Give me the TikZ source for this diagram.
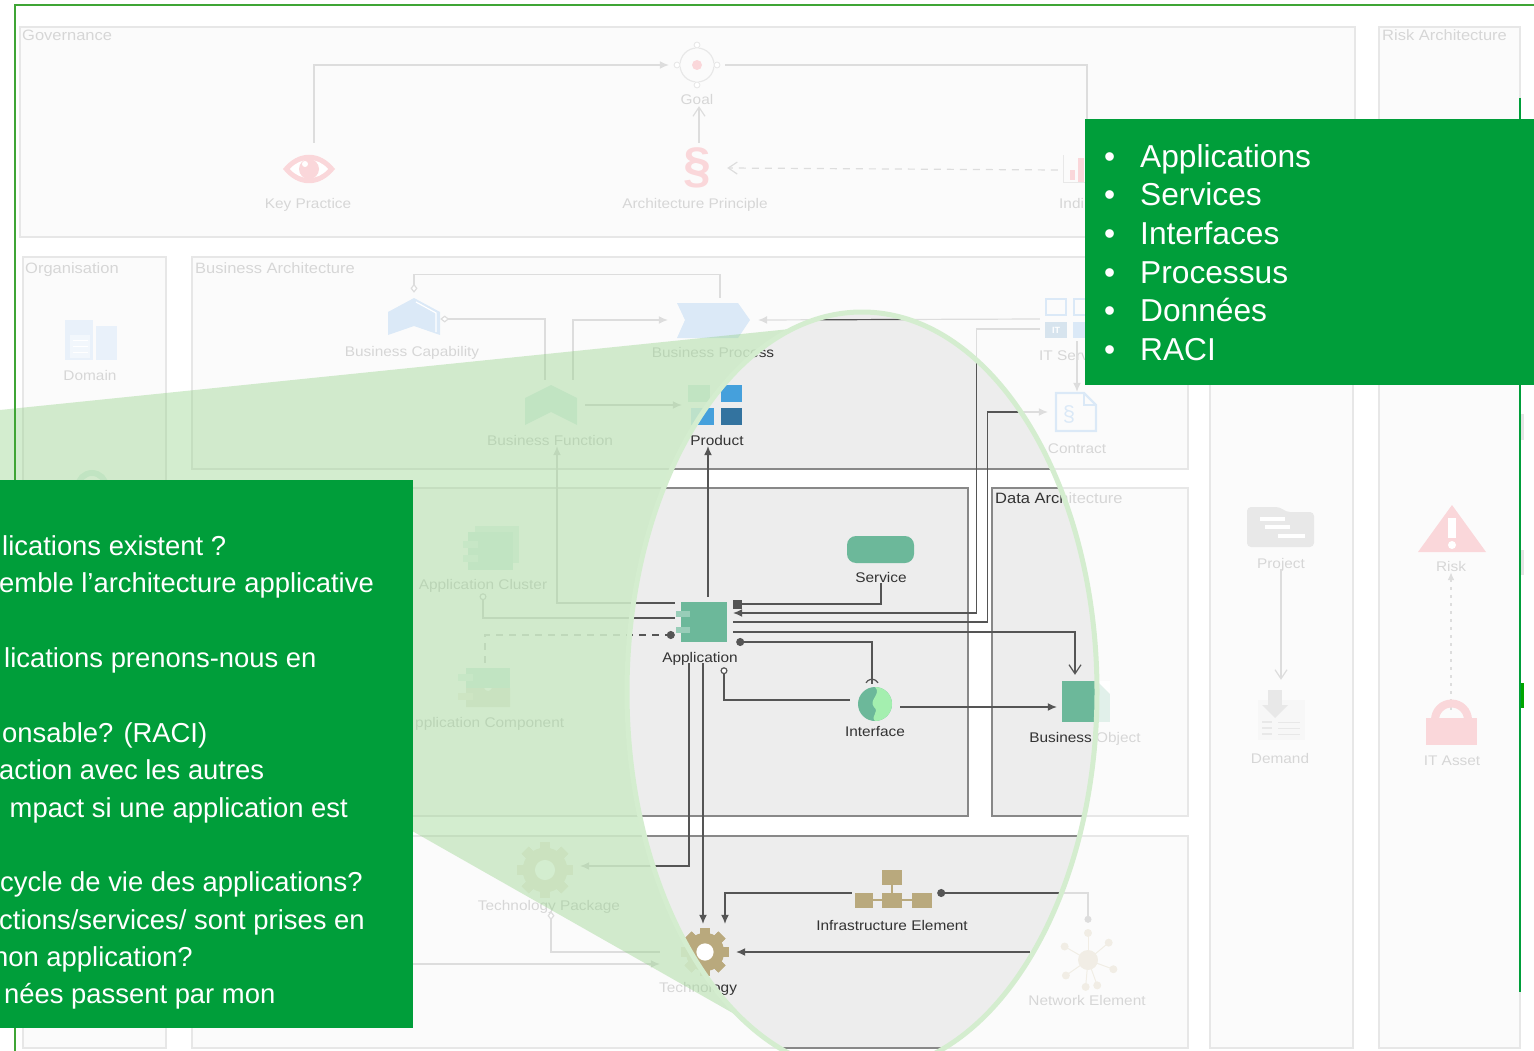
\documentclass[tikz,border=0pt]{standalone}
\usepackage{fontspec}
\setmainfont{Liberation Sans}
\newfontfamily\lblfont[FakeStretch=1.1]{Liberation Sans}
\usetikzlibrary{arrows.meta}
\definecolor{boxgreen}{HTML}{009E3A}
\definecolor{framegreen}{HTML}{3FA535}
\definecolor{conegreen}{RGB}{147,210,135}
\definecolor{halo}{HTML}{D4EDCF}
\definecolor{archred}{HTML}{E63946}
\definecolor{archblue}{HTML}{4B91D7}
\definecolor{appgreen}{HTML}{6CB89A}
\definecolor{techtan}{HTML}{B9A97D}
\definecolor{prodblue}{HTML}{45A0DC}
\definecolor{proddark}{HTML}{33739F}
\definecolor{ink}{HTML}{333333}
\definecolor{wire}{HTML}{555555}
\definecolor{panelline}{HTML}{888888}
\definecolor{greyicon}{HTML}{8C8C8C}
\tikzset{
  panel/.style={fill=black!7,draw=panelline,line width=1.2pt},
  ptitle/.style={anchor=west,inner sep=0pt,text=ink,text height=10pt,text depth=0pt,font=\lblfont\fontsize{15}{16}\selectfont},
  lbl/.style={inner sep=1pt,text=ink,text height=10pt,text depth=0pt,font=\lblfont\fontsize{14}{16}\selectfont},
  ibx/.style 2 args={inner sep=0pt,minimum width=#1 pt,minimum height=#2 pt},
  conn/.style={draw=wire,line width=1.2pt},
  filled/.style={conn,-{Latex[length=9pt,width=8pt]}},
  openarr/.style={conn,-{Straight Barb[length=9pt,width=12pt]}},
  longdash/.style={dash pattern=on 7pt off 6pt},
  listline/.style={anchor=base west,inner sep=0pt,text=white,font=\fontsize{31.7}{38}\selectfont},
  qline/.style={anchor=base west,inner sep=0pt,text=white,font=\fontsize{27.4}{36}\selectfont},
}
\newcommand{\gearicon}[4]{%
  \foreach \a in {0,45,...,315}{\fill[#4,shift={(#1,#2)},rotate=\a] (-5,-#3) rectangle (5,#3);}
  \fill[#4] (#1,#2) circle[radius=#3*0.8pt];
  \fill[white] (#1,#2) circle[radius=#3*0.36pt];
}
\newcommand{\compicon}[5]{%
  \fill[#5] (#1,#2) rectangle (#3,#4);
  \fill[#5!70!white] ({#1-5},{#2+9}) rectangle ({#1+9},{#2+15});
  \fill[#5!70!white] ({#1-5},{#2+25}) rectangle ({#1+9},{#2+31});
}
\begin{document}
\begin{tikzpicture}[x=1pt,y=-1pt]
\useasboundingbox (0,0) rectangle (1534,1051);
\fill[white] (0,0) rectangle (1534,1051);

% --- panels
\path[panel] (20,27) rectangle (1355,237);
\path[panel] (1379,27) rectangle (1520,1048);
\path[panel] (1210,257) rectangle (1353,1048);
\path[panel] (23,257) rectangle (166,1048);
\path[panel] (192,257) rectangle (1188,469);
\path[panel] (192,488) rectangle (968,816);
\path[panel] (992,488) rectangle (1188,816);
\path[panel] (192,836) rectangle (1188,1048);
\node[ptitle] (tgov) at (22,36) {Governance};
\node[ptitle] (trisk) at (1382,36) {Risk Architecture};
\node[ptitle] (torg) at (25,268) {Organisation};
\node[ptitle] (tbus) at (195,268) {Business Architecture};
\node[ptitle] (tdat) at (995,498) {Data Architecture};

% --- node frames (ports of the connectors)
\node[ibx={56}{44}] (goal) at (697,65) {};
\node[ibx={60}{50}] (principle) at (697,168) {};
\node[ibx={52}{52}] (keypr) at (308,169) {};
\node[ibx={34}{30}] (indicator) at (1075,170) {};
\node[ibx={52}{52}] (buscap) at (414,319) {};
\node[ibx={90}{44}] (buspro) at (713,320) {};
\node[ibx={70}{50}] (busfun) at (550,405) {};
\node[ibx={66}{44}] (product) at (715,405) {};
\node[ibx={50}{44}] (itsvc) at (1065,319) {};
\node[ibx={58}{40}] (contract) at (1077,412) {};
\node[ibx={58}{50}] (app) at (704,622) {};
\node[ibx={60}{46}] (cluster) at (490,548) {};
\node[ibx={60}{50}] (comp) at (485,688) {};
\node[ibx={67}{27}] (service) at (880,549) {};
\node[ibx={50}{40}] (iface) at (875,704) {};
\node[ibx={36}{64}] (bizobj) at (1075,707) {};
\node[ibx={70}{50}] (techpkg) at (545,866) {};
\node[ibx={76}{56}] (tech) at (698,952) {};
\node[ibx={80}{40}] (infra) at (892,889) {};
\node[ibx={116}{58}] (network) at (1088,952) {};
\node[ibx={66}{42}] (project) at (1281,527) {};
\node[ibx={50}{60}] (demand) at (1281,710) {};
\node[ibx={68}{48}] (risk) at (1452,528) {};
\node[ibx={54}{36}] (itasset) at (1451,728) {};
\node[ibx={52}{42}] (domain) at (91,340) {};
\node[ibx={34}{34}] (orgicon) at (92,487) {};
\coordinate (techleft) at (192,964);

% --- labels
\node[lbl] (lgoal) at (697,100) {Goal};
\node[lbl] (lkey) at (308,204) {Key Practice};
\node[lbl] (lprin) at (695,204) {Architecture Principle};
\node[lbl,anchor=west] (lind) at (1058,204) {Indi};
\node[lbl] (lcap) at (412,351) {Business Capability};
\node[lbl] (lpro) at (713,352) {Business Process};
\node[lbl] (lfun) at (550,440) {Business Function};
\node[lbl] (lprod) at (717,440) {Product};
\node[lbl,anchor=west] (lit) at (1038,355) {IT Serv};
\node[lbl] (lcon) at (1077,448) {Contract};
\node[lbl] (ldom) at (90,375) {Domain};
\node[lbl] (lapp) at (700,657) {Application};
\node[lbl] (lclu) at (483,584) {Application Cluster};
\node[lbl,anchor=west] (lcom) at (414,722) {pplication Component};
\node[lbl] (lser) at (881,577) {Service};
\node[lbl] (lifa) at (875,731) {Interface};
\node[lbl] (lbiz) at (1085,737) {Business Object};
\node[lbl] (lpkg) at (549,905) {Technology Package};
\node[lbl] (ltec) at (698,987) {Technology};
\node[lbl] (linf) at (892,925) {Infrastructure Element};
\node[lbl] (lnet) at (1087,1000) {Network Element};
\node[lbl] (lprj) at (1281,563) {Project};
\node[lbl] (ldem) at (1280,758) {Demand};
\node[lbl] (lrsk) at (1451,566) {Risk};
\node[lbl] (lass) at (1452,760) {IT Asset};

% --- connectors
\draw[filled] ([xshift=6pt]keypr.north) |- (goal.west);
\draw[openarr] ([xshift=2pt]principle.north) -- ([xshift=2pt]lgoal.south);
\draw[conn] (goal.east) -| ([xshift=12pt]indicator.north);
\draw[openarr,longdash] (indicator.west) -- (principle.east);
\draw[conn,{Diamond[open,fill=white,length=9pt,width=7pt]}-] (buscap.north) -- ++(0,-18) -| ([xshift=7pt]buspro.north);
\draw[conn,{Diamond[open,fill=white,length=9pt,width=7pt]}-] (buscap.east) -| ([xshift=-5pt]busfun.north);
\draw[filled] ([xshift=23pt]busfun.north) |- (buspro.west);
\draw[filled] (busfun.east) -- (product.west);
\draw[filled] (itsvc.west) -- (buspro.east);
\draw[filled] ([yshift=-10pt]itsvc.west) -- ++(-63,0) |- ([yshift=9pt]app.east);
\draw[filled] ([xshift=12pt]itsvc.south) -- (contract.north);
\draw[filled] (app.east) -- ++(254,0) |- (contract.west);
\draw[filled] ([xshift=4pt]app.north) -- ([xshift=-9pt]lprod.south);
\draw[filled] ([yshift=19pt]app.west) -| ([xshift=7pt]lfun.south);
\draw[conn,-{Circle[open,fill=white,length=7pt]}] ([yshift=4pt]app.west) -| ([yshift=-3pt]lclu.south);
\draw[conn,longdash,-{Circle[length=8pt]}] (comp.north) |- ([yshift=-13pt]app.west);
\draw[conn,-{Square[length=9pt,width=9pt]}] (lser.south) |- ([yshift=18pt]app.east);
\draw[openarr] ([yshift=-10pt]app.east) -| (bizobj.north);
\draw[conn,{Circle[length=8pt]}-] ([xshift=3pt,yshift=-20pt]app.east) -| ([xshift=-3pt]iface.north);
\draw[conn] ([xshift=-9pt,yshift=1pt]iface.north) arc[start angle=150,end angle=30,radius=7pt];
\draw[conn,{Circle[open,fill=white,length=7pt]}-] ([xshift=24pt,yshift=-4pt]lapp.south) |- ([yshift=4pt]iface.west);
\draw[filled] ([yshift=-3pt]iface.east) -- (bizobj.west);
\draw[filled] ([xshift=-11pt]lapp.south) |- (techpkg.east);
\draw[filled] ([xshift=3pt]lapp.south) -- ([xshift=5pt]tech.north);
\draw[filled] ([yshift=-4pt]infra.west) -| ([xshift=27pt]tech.north);
\draw[conn,{Circle[length=8pt]}-{Circle[length=7pt]}] ([xshift=5pt,yshift=-4pt]infra.east) -| (network.north);
\draw[filled] (network.west) -- (tech.east);
\draw[conn,{Diamond[open,fill=white,length=9pt,width=7pt]}-] ([xshift=2pt]lpkg.south) |- (tech.west);
\draw[filled] (techleft) -- ([yshift=-12pt]tech.west);
\draw[openarr] (lprj.south) -- (demand.north);
\draw[conn,dash pattern=on 3pt off 5pt,line width=1.8pt,-{Latex[length=8pt,width=7pt]}] (itasset.north) -- (lrsk.south);

% --- icons
% goal
\draw[greyicon,line width=1.2pt] (697,65) circle[radius=17pt];
\foreach \dx/\dy in {0/-20,0/20,-20/0,20/0}{\fill[white] ({697+\dx},{65+\dy}) circle[radius=4pt];\draw[greyicon,line width=1pt] ({697+\dx},{65+\dy}) circle[radius=3pt];}
\fill[archred] (697,65) circle[radius=5pt];
% principle
\node[inner sep=0pt,text=archred,font=\fontsize{50}{50}\selectfont\bfseries] (parag) at (697,168) {§};
% key practice eye
\fill[archred] (283,169) .. controls (298,150) and (320,150) .. (335,169) .. controls (320,188) and (298,188) .. (283,169) -- cycle;
\fill[white] (290,169) .. controls (300,157) and (318,157) .. (328,169) .. controls (318,181) and (300,181) .. (290,169) -- cycle;
\fill[archred] (309,169) circle[radius=10pt];
\fill[white] (305,164) circle[radius=3pt];
% indicator
\fill[archred] (1070,180) rectangle (1075,170);
\fill[archred] (1078,182) rectangle (1084,158);
\draw[greyicon,line width=1pt] (1063,155) -- (1063,183) -- (1085,183);
% domain
\fill[archblue!60] (65,320) rectangle (93,360);
\fill[archblue!60] (96,326) rectangle (117,360);
\fill[archblue!35] (70,335) rectangle (90,358);
\foreach \yy in {340,346,352}{\draw[white,line width=1pt] (73,\yy) -- (88,\yy);}
% org icon (ring)
\draw[appgreen,line width=6pt] (92,487) circle[radius=14pt];
% capability
\fill[archblue] (388,335) -- (388,312) -- (414,298) -- (440,312) -- (440,335) -- (414,326) -- cycle;
\draw[white,line width=1.2pt] (416,302) -- (436,313) -- (436,332);
% process
\fill[archblue] (677,303) -- (738,303) -- (750,320) -- (738,338) -- (677,338) -- (685,320) -- cycle;
% function
\fill[appgreen] (525,425) -- (525,398) -- (551,385) -- (577,398) -- (577,425) -- (551,412) -- cycle;
% product
\fill[appgreen] (688,385) rectangle (710,402);
\fill[prodblue] (721,385) rectangle (742,402);
\fill[prodblue] (691,408) rectangle (714,425);
\fill[proddark] (721,408) rectangle (742,425);
% IT service
\draw[archblue,line width=2pt] (1046,299) rectangle (1066,315);
\draw[archblue,line width=2pt] (1074,299) rectangle (1094,315);
\fill[proddark!75!archblue] (1045,322) rectangle (1067,338);
\fill[archblue] (1073,322) rectangle (1095,338);
\node[inner sep=0pt,text=white,font=\fontsize{9}{10}\selectfont\bfseries] (itmark) at (1056,330) {IT};
% contract
\draw[archblue,line width=2.2pt] (1056,393) -- (1084,393) -- (1096,405) -- (1096,431) -- (1056,431) -- cycle;
\draw[archblue,line width=1.5pt] (1084,393) -- (1084,405) -- (1096,405);
\node[inner sep=0pt,text=archblue,font=\fontsize{22}{22}\selectfont] (cpar) at (1069,414) {§};
% application cluster
\fill[appgreen!75!white] (475,526) rectangle (519,563);
\fill[appgreen] (468,532) rectangle (513,570);
\fill[appgreen!70!white] (463,541) rectangle (478,548);
\fill[appgreen!70!white] (463,555) rectangle (478,562);
% application component
\fill[appgreen] (466,668) rectangle (510,688);
\fill[techtan!80!appgreen] (466,688) -- (484,688) .. controls (486,692) and (490,692) .. (492,688) -- (510,688) -- (510,707) -- (466,707) -- cycle;
\fill[appgreen!70!white] (458,674) rectangle (473,681);
\fill[techtan!70!white] (458,693) rectangle (473,700);
% application
\compicon{681}{602}{727}{642}{appgreen}
% service
\fill[appgreen,rounded corners=9pt] (847,536) rectangle (914,563);
% interface
\fill[appgreen] (875,704) circle[radius=17pt];
\fill[appgreen!50!green!45!white] (875,687) .. controls (882,694) and (868,700) .. (874,707) .. controls (880,712) and (870,716) .. (875,721) arc[start angle=-90,end angle=90,radius=17pt] -- cycle;
% business object
\fill[appgreen] (1062,681) rectangle (1110,722);
\fill[white] (1097,681) -- (1110,681) -- (1110,694) -- cycle;
% technology package and technology
\gearicon{545}{870}{28}{techtan}
\gearicon{705}{952}{24}{techtan}
% infrastructure
\draw[techtan,line width=2pt] (892,878) -- (892,900);
\draw[techtan,line width=2pt] (864,900) -- (922,900);
\fill[techtan] (882,870) rectangle (902,885);
\fill[techtan] (855,893) rectangle (873,908);
\fill[techtan] (882,893) rectangle (902,908);
\fill[techtan] (912,893) rectangle (932,908);
% network element
\foreach \a in {-70,-20,40,90,150,215,265}{
  \draw[techtan,line width=1pt] (1088,960) -- ++(\a:26pt);
  \fill[techtan] (1088,960) ++(\a:27pt) circle[radius=4pt];}
\fill[techtan] (1088,960) circle[radius=10pt];
% project
\fill[greyicon,rounded corners=4pt] (1247,507) -- (1280,507) -- (1286,512) -- (1314,512) -- (1314,547) -- (1247,547) -- cycle;
\fill[white] (1260,517) rectangle (1285,521);
\fill[white] (1265,525) rectangle (1290,529);
\fill[white] (1278,534) rectangle (1305,538);
% demand
\fill[greyicon!35] (1258,700) rectangle (1305,740);
\fill[greyicon] (1268,690) rectangle (1282,705);
\fill[greyicon] (1262,705) -- (1288,705) -- (1275,718) -- cycle;
\foreach \yy in {722,728,734}{\draw[greyicon,line width=1pt] (1278,\yy) -- (1300,\yy);\fill[greyicon] (1262,{\yy-1}) rectangle (1272,{\yy+1});}
% risk
\fill[archred] (1418,552) -- (1452,505) -- (1486,552) -- cycle;
\fill[white] (1448,518) rectangle (1456,538);
\fill[white] (1452,545) circle[radius=4pt];
% IT asset
\fill[archred] (1426,718) rectangle (1477,745);
\draw[archred,line width=8pt] (1435,720) arc[start angle=180,end angle=0,radius=16.5pt];

% --- veil over everything but the focus ellipse
\fill[white,opacity=0.8,even odd rule] (0,0) rectangle (1534,1051) (862,692) ellipse[x radius=235pt,y radius=380pt];

% --- light cone
\begin{scope}[even odd rule]
  \clip (0,0) rectangle (1534,1051) (862,692) ellipse[x radius=235pt,y radius=380pt];
  \fill[conegreen,opacity=0.4] (0,410) -- (790,329) -- (860,692) -- (745,1020) -- (0,597) -- cycle;
\end{scope}
\begin{scope}
  \clip (0,0) rectangle (1534,1051);
  \draw[halo,line width=5pt] (862,692) ellipse[x radius=235pt,y radius=380pt];
\end{scope}

% --- frame
\fill[white] (1520.5,0) rectangle (1534,1051);
\draw[framegreen,line width=2.5pt] (15,1051) -- (15,5) -- (1534,5);
\draw[boxgreen,line width=2.5pt] (1520,98) -- (1520,992);
\fill[green!65!black] (1521,683) rectangle (1524,708);
\fill[black!10] (1521,414) rectangle (1524,440);
\fill[black!10] (1521,550) rectangle (1524,575);

% --- green text boxes
\fill[boxgreen] (1085,119) rectangle (1534,385);
\node[listline] (r1) at (1104,168) {\makebox[36pt][l]{•}Applications};
\node[listline] (r2) at (1104,206) {\makebox[36pt][l]{•}Services};
\node[listline] (r3) at (1104,244) {\makebox[36pt][l]{•}Interfaces};
\node[listline] (r4) at (1104,283) {\makebox[36pt][l]{•}Processus};
\node[listline] (r5) at (1104,321) {\makebox[36pt][l]{•}Données};
\node[listline] (r6) at (1104,360) {\makebox[36pt][l]{•}RACI};

\fill[boxgreen] (0,480) rectangle (413,1028);
\begin{scope}
\clip (0,480) rectangle (413,1028);
\node[qline] (q1) at (2,555) {lications existent ?};
\node[qline] (q2) at (-1,592) {emble l’architecture applicative};
\node[qline] (q3) at (4,667) {lications prenons-nous en};
\node[qline] (q4) at (2,742) {onsable? (RACI)};
\node[qline] (q5) at (-1,779) {action avec les autres};
\node[qline] (q6) at (9.5,817) {mpact si une application est};
\node[qline] (q7) at (0,891) {cycle de vie des applications?};
\node[qline] (q8) at (-1,929) {ctions/services/ sont prises en};
\node[qline] (q9) at (-7,966) {non application?};
\node[qline] (q10) at (4,1003) {nées passent par mon};
\end{scope}
\end{tikzpicture}
\end{document}
